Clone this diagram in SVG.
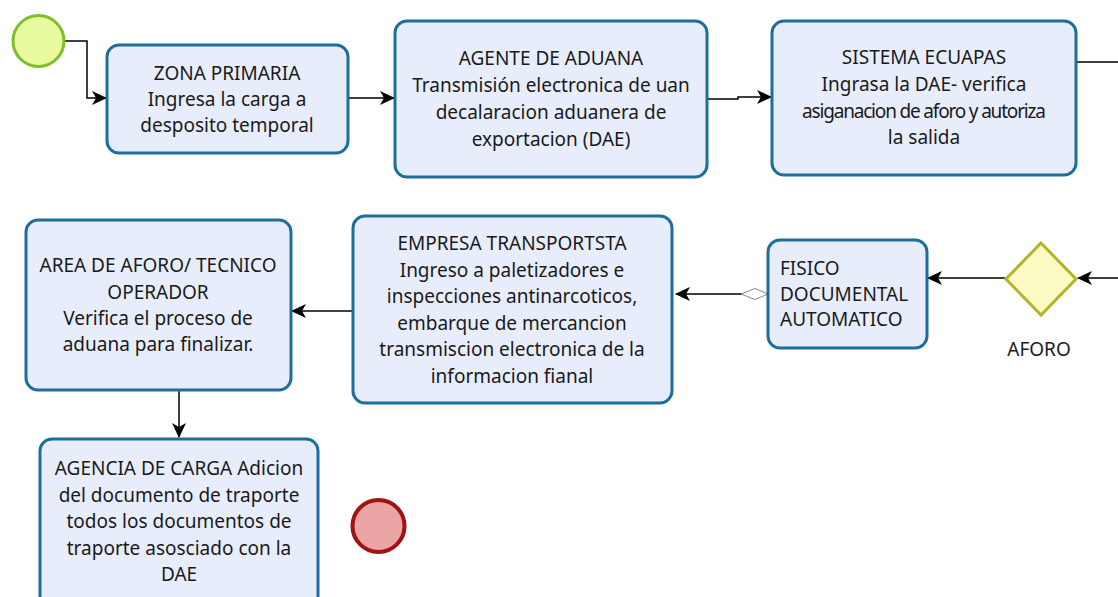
<svg xmlns="http://www.w3.org/2000/svg" width="1118" height="597" viewBox="0 0 1118 597">
<style>
.task{fill:#e8edfc;stroke:#1d6e9c;stroke-width:3}
.t{font-family:"Noto Sans","DejaVu Sans",sans-serif;font-size:19px;fill:#1a1a1a;text-anchor:middle}
.tl{text-anchor:start}
.flow{fill:none;stroke:#000;stroke-width:1.5}
</style>
<defs>
<marker id="arr" markerWidth="16" markerHeight="16" refX="14" refY="8" orient="auto" markerUnits="userSpaceOnUse">
<path d="M0,1 L15,8 L0,15 L4,8 z" fill="#000"/>
</marker>
<marker id="cond" markerWidth="32" markerHeight="14" refX="1" refY="7" orient="auto" markerUnits="userSpaceOnUse">
<path d="M1,7 L14,1.5 L28,7 L14,12.5 z" fill="#fff" stroke="#888" stroke-width="1"/>
</marker>
</defs>
<rect width="1118" height="597" fill="#fff"/>
<g id="connectors">
<path class="flow" d="M65,41 H87 V98 H106" marker-end="url(#arr)"/>
<path class="flow" d="M348,98 H394" marker-end="url(#arr)"/>
<path class="flow" d="M707,99 H738 V97 H771" marker-end="url(#arr)"/>
<path class="flow" d="M1076,62 H1118"/>
<path class="flow" d="M1118,278 H1078" marker-end="url(#arr)"/>
<path class="flow" d="M1005,278 H928" marker-end="url(#arr)"/>
<path class="flow" d="M768,294 H676" marker-start="url(#cond)" marker-end="url(#arr)"/>
<path class="flow" d="M352,311 H292" marker-end="url(#arr)"/>
<path class="flow" d="M179,390 V437" marker-end="url(#arr)"/>
</g>
<g id="start"><circle cx="38.5" cy="41" r="25.5" fill="#e8fb9e" stroke="#7dbf2a" stroke-width="3"/></g>
<g id="zona">
<rect class="task" x="107" y="45" width="241" height="108" rx="12"/>
<text class="t" x="227" y="80">ZONA PRIMARIA</text>
<text class="t" x="227" y="106">Ingresa la carga a</text>
<text class="t" x="227" y="132">desposito temporal</text>
</g>
<g id="agente">
<rect class="task" x="395" y="21" width="312" height="156" rx="12"/>
<text class="t" x="551" y="65">AGENTE DE ADUANA</text>
<text class="t" x="551" y="92">Transmisión electronica de uan</text>
<text class="t" x="551" y="119">decalaracion aduanera de</text>
<text class="t" x="551" y="146">exportacion (DAE)</text>
</g>
<g id="sistema">
<rect class="task" x="772" y="21" width="304" height="154" rx="12"/>
<text class="t" x="924" y="64">SISTEMA ECUAPAS</text>
<text class="t" x="924" y="91">Ingrasa la DAE- verifica</text>
<text class="t" x="924" y="118" textLength="244" lengthAdjust="spacing">asiganacion de aforo y autoriza</text>
<text class="t" x="924" y="144">la salida</text>
</g>
<g id="aforo">
<polygon points="1041,243 1076,279 1041,315 1006,279" fill="#fdfbc4" stroke="#b3b42a" stroke-width="3"/>
<text class="t" x="1039" y="356">AFORO</text>
</g>
<g id="fisico">
<rect class="task" x="768" y="240" width="159" height="108" rx="12"/>
<text class="t tl" x="780" y="275">FISICO</text>
<text class="t tl" x="780" y="301">DOCUMENTAL</text>
<text class="t tl" x="780" y="326">AUTOMATICO</text>
</g>
<g id="empresa">
<rect class="task" x="353" y="216" width="319" height="187" rx="12"/>
<text class="t" x="512" y="250">EMPRESA TRANSPORTSTA</text>
<text class="t" x="512" y="277">Ingreso a paletizadores e</text>
<text class="t" x="512" y="303">inspecciones antinarcoticos,</text>
<text class="t" x="512" y="330">embarque de mercancion</text>
<text class="t" x="512" y="356">transmiscion electronica de la</text>
<text class="t" x="512" y="383">informacion fianal</text>
</g>
<g id="area">
<rect class="task" x="26" y="220" width="265" height="170" rx="12"/>
<text class="t" x="158" y="272">AREA DE AFORO/ TECNICO</text>
<text class="t" x="158" y="299">OPERADOR</text>
<text class="t" x="158" y="325">Verifica el proceso de</text>
<text class="t" x="158" y="351">aduana para finalizar.</text>
</g>
<g id="agencia">
<rect class="task" x="40" y="439" width="278" height="170" rx="12"/>
<text class="t" x="179" y="475">AGENCIA DE CARGA Adicion</text>
<text class="t" x="179" y="502">del documento de traporte</text>
<text class="t" x="179" y="528">todos los documentos de</text>
<text class="t" x="179" y="555">traporte asosciado con la</text>
<text class="t" x="179" y="581">DAE</text>
</g>
<g id="end"><circle cx="378.5" cy="526" r="26" fill="#eca5a5" stroke="#a31212" stroke-width="4"/></g>
</svg>
